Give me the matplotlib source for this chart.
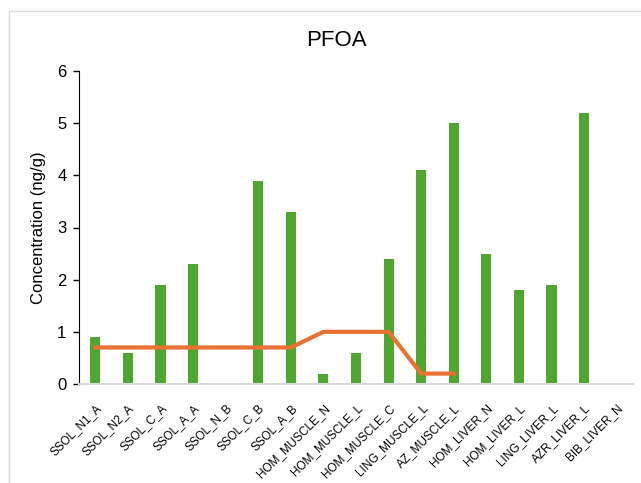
import numpy as np
import matplotlib
matplotlib.use('Agg')
import matplotlib.pyplot as plt
from matplotlib.patches import Rectangle

plt.rcParams['font.family'] = ['Liberation Sans', 'DejaVu Sans']

samples = ['SSOL_N1_A', 'SSOL_N2_A', 'SSOL_C_A', 'SSOL_A_A', 'SSOL_N_B', 'SSOL_C_B',
           'SSOL_A_B', 'HOM_MUSCLE_N', 'HOM_MUSCLE_L', 'HOM_MUSCLE_C', 'LING_MUSCLE_L',
           'AZ_MUSCLE_L', 'HOM_LIVER_N', 'HOM_LIVER_L', 'LING_LIVER_L', 'AZR_LIVER_L',
           'BIB_LIVER_N']
# concentration per sample (nan = not detected)
conc = [0.9, 0.6, 1.9, 2.3, np.nan, 3.9, 3.3, 0.2, 0.6, 2.4, 4.1, 5.0,
        2.5, 1.8, 1.9, 5.2, np.nan]
# limit line (only first 12 samples)
limit = [0.7, 0.7, 0.7, 0.7, 0.7, 0.7, 0.7, 1.0, 1.0, 1.0, 0.2, 0.2,
         np.nan, np.nan, np.nan, np.nan, np.nan]

fig = plt.figure(figsize=(6.41, 4.83), dpi=100)
ax = fig.add_axes([79/641, 1 - 384/483, 554/641, 313/483])

x = np.arange(len(samples))
ax.bar(x, np.nan_to_num(conc), width=0.31, color='#4ea72e', zorder=2)
ax.plot(x, limit, color='#e97132', lw=3, zorder=3)

ax.set_xlim(-0.5, len(samples) - 0.5)
ax.set_ylim(0, 6)
ax.set_yticks(range(7))
ax.tick_params(axis='y', labelsize=12, direction='out', length=4, width=1, pad=5)
ax.set_xticks(x)
ax.set_xticklabels(samples, rotation=45, ha='right', rotation_mode='anchor', fontsize=8.5)
ax.tick_params(axis='x', length=0, pad=13)
ax.set_ylabel('Concentration (ng/g)', fontsize=12, labelpad=8)
fig.text(336/641, 1 - 40/483, 'PFOA', fontsize=16, ha='center', va='center')

for s in ['top', 'right']:
    ax.spines[s].set_visible(False)
ax.spines['bottom'].set_color('#d9d9d9')
ax.spines['bottom'].set_linewidth(1.5)
ax.spines['left'].set_color('black')

# light chart-area frame
fig.patches.append(Rectangle((9/641, -0.1), 1.2, 1 - 11/483 + 0.1, transform=fig.transFigure,
                             fill=False, edgecolor='#d9d9d9', lw=1))

plt.savefig('out.png', dpi=100)
